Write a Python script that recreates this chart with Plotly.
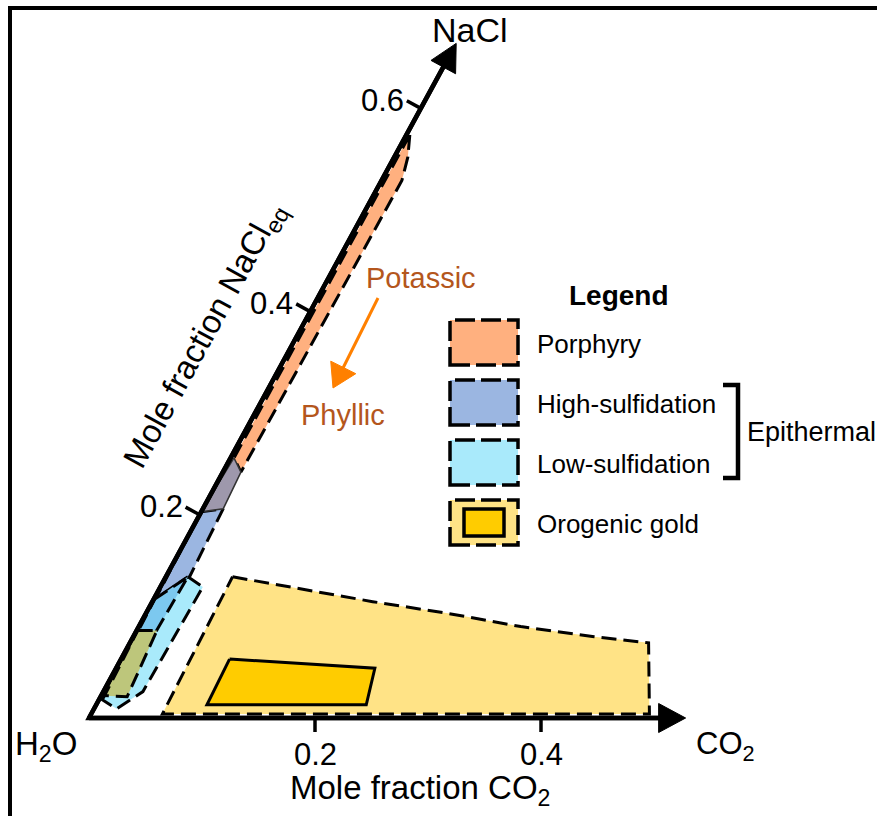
import math
import plotly.graph_objects as go

# ---------------- data: vertices (mole fraction CO2, mole fraction NaCl) ----------------
porphyry_co2 = [0.003, 0.012, 0.018, 0.016, 0.003]
porphyry_nacl = [0.574, 0.552, 0.529, 0.242, 0.256]

ph_hs_overlap_co2 = [0.003, 0.016, 0.018, 0.000]
ph_hs_overlap_nacl = [0.256, 0.242, 0.206, 0.203]

highsulf_co2 = [0.000, 0.018, 0.021, 0.016, 0.003]
highsulf_nacl = [0.203, 0.206, 0.139, 0.036, 0.022]

lowsulf_co2 = [0.0195, 0.0376, 0.035, 0.026, 0.020, 0.003, 0.001]
lowsulf_nacl = [0.139, 0.129, 0.026, 0.016, 0.009, 0.018, 0.117]

hs_ls_overlap_co2 = [0.001, 0.0195, 0.016, 0.003]
hs_ls_overlap_nacl = [0.117, 0.139, 0.036, 0.022]

orogenic_axis_co2 = [0.001, 0.018, 0.0235, 0.003]
orogenic_axis_nacl = [0.086, 0.086, 0.021, 0.022]

orogenic_co2 = [0.059, 0.124, 0.195, 0.267, 0.338, 0.408, 0.459, 0.494, 0.063]
orogenic_nacl = [0.139, 0.127, 0.1145, 0.103, 0.090, 0.080, 0.074, 0.004, 0.004]

orogenic_core_co2 = [0.096, 0.229, 0.239, 0.098]
orogenic_core_nacl = [0.058, 0.049, 0.013, 0.013]

co2_ticks = [0.2, 0.4]
nacl_ticks = [0.2, 0.4, 0.6]
co2_axis_tip = 0.528
nacl_axis_tip = 0.664

legend_labels = ["Porphyry", "High-sulfidation", "Low-sulfidation", "Orogenic gold"]
legend_colors = ["#FFB07F", "#9BB6E1", "#A9EAFB", "#FFE386"]

# ---------------- geometry / style ----------------
W, H = 877, 816
X0PX, Y0PX = 89, 718          # pixel of the H2O corner
SX, SY, SH = 1130, 1016, 553  # pixels per unit: CO2 axis, NaCl vertical, NaCl horizontal skew
SHEAR = SH / SX
FONT = "Liberation Sans, Arial, sans-serif"
DASH = "15px,7px"


def skew(co2, nacl):
    return [c + SHEAR * n for c, n in zip(co2, nacl)], list(nacl)


def to_px(X, Y):
    return X0PX + SX * X, Y0PX - SY * Y


def from_px(px, py):
    return (px - X0PX) / SX, (Y0PX - py) / SY


def P(px, py):
    return px / W, 1 - py / H


fig = go.Figure()


def poly(co2, nacl, fill, dash=DASH, lw=3, lc="black"):
    x, y = skew(co2, nacl)
    fig.add_trace(go.Scatter(
        x=x + [x[0]], y=y + [y[0]], mode="lines", fill="toself", fillcolor=fill,
        line=dict(color=lc, width=lw, dash=dash), hoverinfo="skip", showlegend=False))


def arrow(tail_px, tip_px, color, lw, head_len, head_w):
    """Line plus filled triangular head, sized in screen pixels."""
    dx, dy = tip_px[0] - tail_px[0], tip_px[1] - tail_px[1]
    d = math.hypot(dx, dy)
    ux, uy = dx / d, dy / d
    nx, ny = -uy, ux
    bx, by = tip_px[0] - head_len * ux, tip_px[1] - head_len * uy
    lx, ly = zip(*[from_px(*tail_px), from_px(bx + ux * 2, by + uy * 2)])
    fig.add_trace(go.Scatter(x=list(lx), y=list(ly), mode="lines", line=dict(color=color, width=lw),
                             hoverinfo="skip", showlegend=False))
    tri = [tip_px, (bx + nx * head_w / 2, by + ny * head_w / 2), (bx - nx * head_w / 2, by - ny * head_w / 2)]
    hx, hy = zip(*[from_px(*p) for p in tri + [tri[0]]])
    fig.add_trace(go.Scatter(x=list(hx), y=list(hy), mode="lines", fill="toself", fillcolor=color,
                             line=dict(color=color, width=1), hoverinfo="skip", showlegend=False))


poly(orogenic_co2, orogenic_nacl, "#FFE386")
poly(orogenic_core_co2, orogenic_core_nacl, "#FFCC00", dash="solid", lw=3)
poly(highsulf_co2, highsulf_nacl, "#9BB6E1")
poly(lowsulf_co2, lowsulf_nacl, "#A9EAFB")
poly(hs_ls_overlap_co2, hs_ls_overlap_nacl, "#7CC8EF")
poly(orogenic_axis_co2, orogenic_axis_nacl, "#BDC67B")
poly(porphyry_co2, porphyry_nacl, "#FFB07F")
poly(ph_hs_overlap_co2, ph_hs_overlap_nacl, "#9E98AC", dash="solid", lw=1.5, lc="#333333")

# axes: skewed NaCl axis and horizontal CO2 axis with arrowheads
ox, oy = skew([0], [0])
nx_, ny_ = skew([0], [nacl_axis_tip])
cx_, cy_ = skew([co2_axis_tip], [0])
origin_px = to_px(ox[0], oy[0])
fig.add_trace(go.Scatter(x=[nx_[0] - 0.02 * SHEAR, ox[0], cx_[0] - 0.02], y=[ny_[0] - 0.02, oy[0], cy_[0]],
                         mode="lines", line=dict(color="black", width=4.5),
                         hoverinfo="skip", showlegend=False))
arrow(origin_px, to_px(nx_[0], ny_[0]), "black", 4.5, 27, 28)
arrow(origin_px, to_px(cx_[0], cy_[0]), "black", 4.5, 27, 29)

# tick marks
tx, ty = [], []
for t in nacl_ticks:
    bx, by = skew([0], [t])
    tx += [bx[0], bx[0] - 14 / SX, None]
    ty += [by[0], by[0] + 7.7 / SY, None]
for t in co2_ticks:
    tx += [t, t, None]
    ty += [0, -14 / SY, None]
fig.add_trace(go.Scatter(x=tx, y=ty, mode="lines", line=dict(color="black", width=3.5),
                         hoverinfo="skip", showlegend=False))

ann = []
for t in nacl_ticks:
    bx, by = skew([0], [t])
    ann.append(dict(x=bx[0], y=by[0], xref="x", yref="y", text=f"{t:.1f}", showarrow=False,
                    xanchor="right", yanchor="middle", xshift=-15, yshift=8,
                    font=dict(size=31, color="black", family=FONT)))
for t in co2_ticks:
    ann.append(dict(x=t, y=0, xref="x", yref="y", text=f"{t:.1f}", showarrow=False,
                    xanchor="center", yanchor="top", yshift=-17,
                    font=dict(size=31, color="black", family=FONT)))


def text(px, py, s, size=30, color="black", xanchor="center", angle=0, bold=False):
    x, y = P(px, py)
    ann.append(dict(x=x, y=y, xref="paper", yref="paper", text=(f"<b>{s}</b>" if bold else s),
                    showarrow=False, xanchor=xanchor, yanchor="middle", textangle=angle,
                    font=dict(size=size, color=color, family=FONT)))


text(470, 30, "NaCl", 34)
text(46, 746, "H<sub>2</sub>O", 33)
text(725, 746, "CO<sub>2</sub>", 31)
text(420, 790, "Mole fraction CO<sub>2</sub>", 33)
text(205, 336, "Mole fraction NaCl<sub>eq</sub>", 33, angle=-61.4)
text(421, 278, "Potassic", 29, color="#B4561C")
text(343, 415, "Phyllic", 29, color="#B4561C")

# orange arrow Potassic -> Phyllic
arrow((378, 298), (333, 388), "#FF8000", 3, 23, 28)

# legend
text(619, 295, "Legend", 28, bold=True)
shapes = []
box_tops = [320, 380, 440, 500]
for lab, col, top in zip(legend_labels, legend_colors, box_tops):
    x0, y0 = P(450, top)
    x1, y1 = P(518, top + 45)
    shapes.append(dict(type="rect", xref="paper", yref="paper", x0=x0, y0=y1, x1=x1, y1=y0,
                       fillcolor=col, line=dict(color="black", width=3.5, dash="20px,6px")))
    text(535, top + 24, lab, 26, xanchor="left")
x0, y0 = P(464, 509)
x1, y1 = P(504, 536)
shapes.append(dict(type="rect", xref="paper", yref="paper", x0=x0, y0=y1, x1=x1, y1=y0,
                   fillcolor="#FFCC00", line=dict(color="black", width=3.5)))

# bracket for Epithermal
b = [P(723, 385), P(738, 385), P(738, 478), P(723, 478)]
path = "M " + " L ".join(f"{x},{y}" for x, y in b)
shapes.append(dict(type="path", xref="paper", yref="paper", path=path,
                   line=dict(color="black", width=4.5)))
text(745, 432, "Epithermal", 27, xanchor="left")

# outer frame (left and top edges)
f = [P(10, H + 5), P(10, 8), P(W + 5, 8)]
shapes.append(dict(type="path", xref="paper", yref="paper",
                   path="M " + " L ".join(f"{x},{y}" for x, y in f),
                   line=dict(color="black", width=4)))

fig.update_layout(
    width=W, height=H, margin=dict(l=0, r=0, t=0, b=0), autosize=False,
    paper_bgcolor="white", plot_bgcolor="white", showlegend=False,
    xaxis=dict(range=[-X0PX / SX, (W - X0PX) / SX], visible=False, fixedrange=True),
    yaxis=dict(range=[-(H - Y0PX) / SY, Y0PX / SY], visible=False, fixedrange=True),
    annotations=ann, shapes=shapes, font=dict(family=FONT),
)

fig.write_html("out.html")
